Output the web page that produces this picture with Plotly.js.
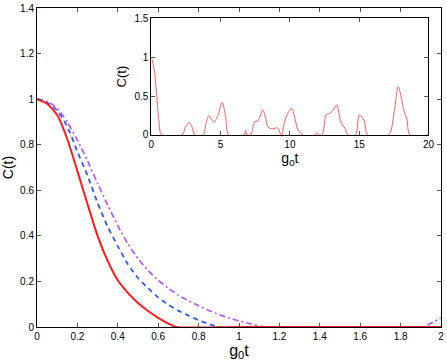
<!DOCTYPE html>
<html>
<head>
<meta charset="utf-8">
<script src="https://cdn.plot.ly/plotly-3.0.1.min.js"></script>
<style>
  html, body { margin: 0; padding: 0; background: #fff; }
  #chart { width: 447px; height: 364px; }
</style>
</head>
<body>
<div id="chart"></div>
<script>
// main panel: C(t) against g0 t, three cases
const tRed = [0, 0.05, 0.1, 0.15, 0.2, 0.25, 0.3, 0.35, 0.4, 0.45, 0.5, 0.55, 0.6, 0.65, 0.69, 1.0, 1.5, 2.0];
const cRed = [1, 0.98, 0.93, 0.825, 0.685, 0.54, 0.40, 0.29, 0.205, 0.15, 0.105, 0.07, 0.04, 0.015, 0, 0, 0, 0];

const tBlue = [0, 0.05, 0.1, 0.15, 0.2, 0.25, 0.3, 0.35, 0.4, 0.45, 0.5, 0.55, 0.6, 0.65, 0.7, 0.75, 0.8, 0.85, 0.9, 1.5, 2.0];
const cBlue = [1, 0.985, 0.95, 0.88, 0.77, 0.665, 0.545, 0.44, 0.355, 0.275, 0.215, 0.17, 0.13, 0.098, 0.072, 0.05, 0.03, 0.013, 0, 0, 0];

const tPurple = [0, 0.05, 0.1, 0.15, 0.2, 0.25, 0.3, 0.35, 0.4, 0.45, 0.5, 0.55, 0.6, 0.65, 0.7, 0.75, 0.8, 0.85, 0.9, 0.95, 1.0, 1.05, 1.1, 1.15, 1.5, 1.91, 1.94, 1.97, 2.0];
const cPurple = [1, 0.99, 0.96, 0.9, 0.82, 0.73, 0.63, 0.535, 0.445, 0.365, 0.3, 0.248, 0.205, 0.17, 0.14, 0.115, 0.093, 0.073, 0.055, 0.04, 0.027, 0.015, 0.004, 0, 0, 0, 0.012, 0.026, 0.04];

// inset: long-time behaviour
const tInset = [0, 0.2, 0.39, 0.55, 0.75, 2.23, 2.45, 2.73, 2.95, 3.14, 3.74, 3.95, 4.15, 4.35, 4.53, 4.8, 5.11, 5.35, 5.59,
  6.69, 6.79, 6.93, 7.17, 7.46, 7.7, 8.04, 8.25, 8.42, 8.78, 9.09, 9.33, 9.4, 9.62, 9.85, 10.15, 10.38, 10.58, 10.94,
  11.85, 11.94, 12.09, 12.33, 12.62, 12.9, 13.15, 13.38, 13.7, 13.98, 14.18, 14.73, 15.01, 15.37, 15.61,
  17.12, 17.53, 17.82, 18.25, 18.45, 18.66, 20];
const cInset = [1, 0.85, 0.51, 0.17, 0, 0, 0.1, 0.158, 0.1, 0, 0, 0.15, 0.248, 0.2, 0.163, 0.25, 0.42, 0.25, 0,
  0, 0.056, 0, 0, 0.17, 0.18, 0.32, 0.22, 0.1, 0.077, 0.094, 0.01, 0, 0.17, 0.28, 0.34, 0.2, 0.064, 0,
  0, 0.03, 0, 0, 0.26, 0.28, 0.33, 0.386, 0.15, 0.086, 0, 0, 0.257, 0.18, 0,
  0, 0.3, 0.62, 0.3, 0.2, 0, 0];

const xTicks = [0, 0.2, 0.4, 0.6, 0.8, 1, 1.2, 1.4, 1.6, 1.8, 2];
const yTicks = [0, 0.2, 0.4, 0.6, 0.8, 1, 1.2, 1.4];
const xInsetTicks = [0, 5, 10, 15, 20];
const yInsetTicks = [0, 0.5, 1, 1.5];

const FONT = { family: 'Liberation Sans, Arial, sans-serif', color: '#000' };

const traces = [
  {
    x: tPurple, y: cPurple, mode: 'lines',
    line: { color: '#b84dff', width: 1.6, dash: '6px,3px,2px,3px', shape: 'spline', smoothing: 0.6 },
    xaxis: 'x', yaxis: 'y', showlegend: false, hoverinfo: 'skip'
  },
  {
    x: tBlue, y: cBlue, mode: 'lines',
    line: { color: '#3057f2', width: 1.8, dash: '5px,4px', shape: 'spline', smoothing: 0.6 },
    xaxis: 'x', yaxis: 'y', showlegend: false, hoverinfo: 'skip'
  },
  {
    x: tRed, y: cRed, mode: 'lines',
    line: { color: '#ff1a1a', width: 2, shape: 'spline', smoothing: 0.6 },
    xaxis: 'x', yaxis: 'y', showlegend: false, hoverinfo: 'skip'
  },
  {
    x: tInset, y: cInset, mode: 'lines',
    line: { color: '#ff5a5a', width: 1, shape: 'spline', smoothing: 0.8 },
    xaxis: 'x2', yaxis: 'y2', showlegend: false, hoverinfo: 'skip'
  }
];

const axisCommon = {
  showgrid: false, zeroline: false,
  showline: true, linecolor: '#000', linewidth: 1, mirror: 'ticks',
  ticks: 'inside', ticklen: 4, tickcolor: '#555',
  tickfont: { family: FONT.family, size: 10, color: '#000' }
};

const layout = {
  font: FONT,
  width: 447, height: 364,
  margin: { t: 8, r: 6, b: 37, l: 37 },
  paper_bgcolor: 'white', plot_bgcolor: 'white',
  xaxis: Object.assign({}, axisCommon, {
    range: [0, 2], tickvals: xTicks, ticktext: xTicks.map(String),
    domain: [0, 1],
    title: { text: 'g<sub>0</sub>t', font: { size: 16 }, standoff: 2 }
  }),
  yaxis: Object.assign({}, axisCommon, {
    range: [0, 1.4], tickvals: yTicks, ticktext: yTicks.map(String),
    domain: [0, 1],
    title: { text: 'C(t)', font: { size: 14 }, standoff: 4 }
  }),
  xaxis2: Object.assign({}, axisCommon, {
    anchor: 'y2', range: [0, 20], tickvals: xInsetTicks, ticktext: xInsetTicks.map(String),
    domain: [0.283, 0.969],
    title: { text: 'g<sub>0</sub>t', font: { size: 14 }, standoff: 0 }
  }),
  yaxis2: Object.assign({}, axisCommon, {
    anchor: 'x2', range: [0, 1.5], tickvals: yInsetTicks, ticktext: yInsetTicks.map(String),
    domain: [0.602, 0.968],
    title: { text: 'C(t)', font: { size: 13 }, standoff: 4 }
  })
};

Plotly.newPlot('chart', traces, layout, { displayModeBar: false, staticPlot: true });
</script>
</body>
</html>
